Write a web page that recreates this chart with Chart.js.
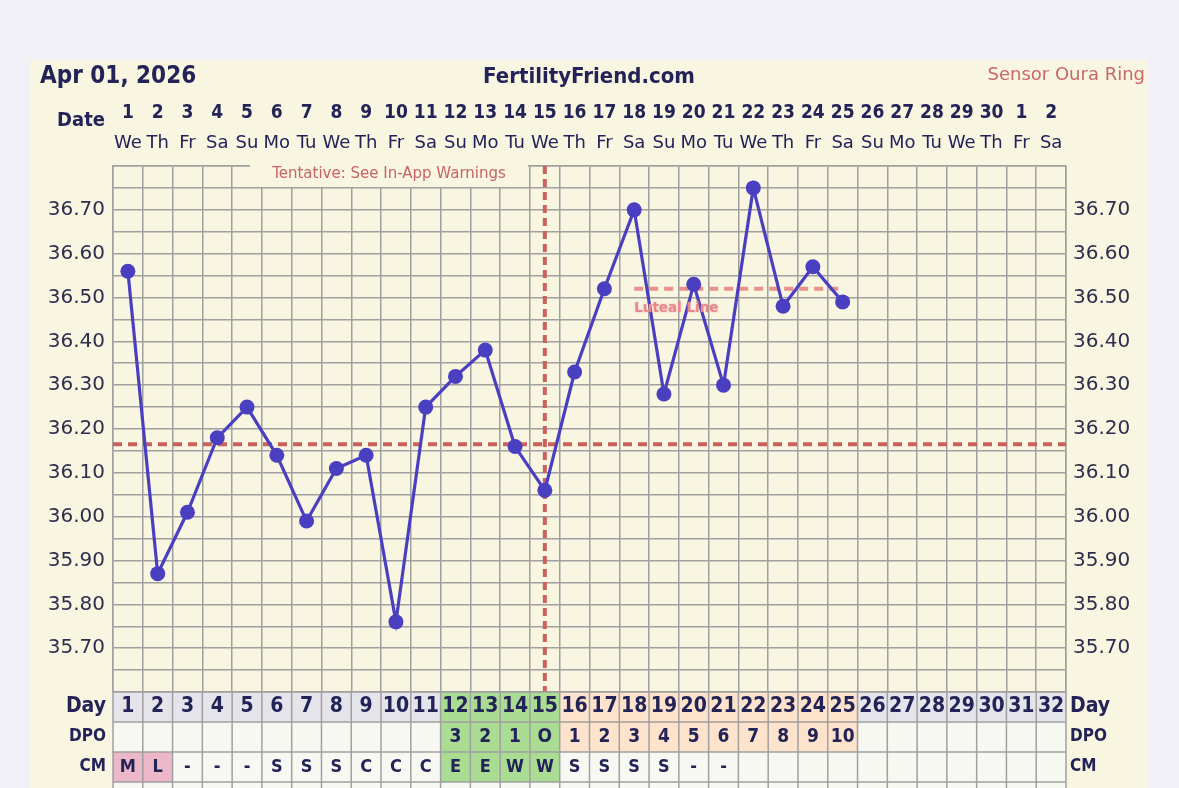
<!DOCTYPE html>
<html><head><meta charset="utf-8">
<script src="https://cdn.jsdelivr.net/npm/chart.js@4.4.1/dist/chart.umd.min.js"></script>
<style>
html,body{margin:0;padding:0;background:#f1f0f7;}
canvas{display:block;}
</style></head><body>
<canvas id="c" width="1179" height="788"></canvas>
<script>
// ---- data ----
const cycleDays = ['1','2','3','4','5','6','7','8','9','10','11','12','13','14','15','16','17','18','19','20','21','22','23','24','25','26','27','28','29','30','31','32'];
const dateNumbers = ['1','2','3','4','5','6','7','8','9','10','11','12','13','14','15','16','17','18','19','20','21','22','23','24','25','26','27','28','29','30','1','2'];
const weekdays = ['We','Th','Fr','Sa','Su','Mo','Tu','We','Th','Fr','Sa','Su','Mo','Tu','We','Th','Fr','Sa','Su','Mo','Tu','We','Th','Fr','Sa','Su','Mo','Tu','We','Th','Fr','Sa'];
const temperatures = [36.56,35.87,36.01,36.18,36.25,36.14,35.99,36.11,36.14,35.76,36.25,36.32,36.38,36.16,36.06,36.33,36.52,36.70,36.28,36.53,36.30,36.75,36.48,36.57,36.49];
const lutealLine = [null,null,null,null,null,null,null,null,null,null,null,null,null,null,null,null,null,36.52,36.52,36.52,36.52,36.52,36.52,36.52,36.52];
const coverline = 36.165;
const ovulationDay = 15;
const yTickLabels = ['35.70','35.80','35.90','36.00','36.10','36.20','36.30','36.40','36.50','36.60','36.70'];
const dpoLabels = ['','','','','','','','','','','','3','2','1','O','1','2','3','4','5','6','7','8','9','10','','','','','','',''];
const cmLabels = ['M','L','-','-','-','S','S','S','C','C','C','E','E','W','W','S','S','S','S','-','-','','','','','','','','','','',''];
const phases = ['pre','pre','pre','pre','pre','pre','pre','pre','pre','pre','pre','fert','fert','fert','fert','post','post','post','post','post','post','post','post','post','post','none','none','none','none','none','none','none'];
const cmMenses = ['M','L'];

const NAVY = '#232358';
const GRID = '#a0a0a0';
const CREAM = '#f8f5e1';

const ffPlugin = {
  id: 'ff',
  beforeDraw(chart) {
    const c = chart.ctx;
    c.save();
    c.fillStyle = '#f1f0f7'; c.fillRect(0, 0, chart.width, chart.height);
    c.fillStyle = CREAM; c.fillRect(30, 60, 1118, 740);
    c.restore();
  },
  beforeDatasetsDraw(chart) {
    const { ctx, chartArea: a, scales: { x, y } } = chart;
    ctx.save();
    // tentative label box
    ctx.fillStyle = CREAM;
    ctx.fillRect(250, a.top - 4, 278, 25);
    ctx.fillStyle = '#c86464';
    ctx.font = '15px "DejaVu Sans"';
    ctx.textAlign = 'center'; ctx.textBaseline = 'middle';
    ctx.fillText('Tentative: See In-App Warnings', 389, a.top + 8);
    // coverline
    ctx.strokeStyle = '#c9625c'; ctx.lineWidth = 4; ctx.setLineDash([9, 6]);
    const yy = y.getPixelForValue(coverline);
    ctx.beginPath(); ctx.moveTo(a.left, yy); ctx.lineTo(a.right, yy); ctx.stroke();
    // ovulation line
    const xx = x.getPixelForValue(ovulationDay - 1);
    ctx.setLineDash([8, 5]);
    ctx.beginPath(); ctx.moveTo(xx, a.top); ctx.lineTo(xx, a.bottom); ctx.stroke();
    ctx.restore();
  },
  afterDatasetsDraw(chart) {
    const { ctx, scales: { x, y } } = chart;
    ctx.save();
    ctx.font = 'bold 13.5px "DejaVu Sans"';
    ctx.fillStyle = '#e8888a';
    ctx.shadowColor = 'rgba(232,136,138,0.6)'; ctx.shadowBlur = 2;
    ctx.textAlign = 'left'; ctx.textBaseline = 'middle';
    ctx.fillText('Luteal Line', x.getPixelForValue(17), y.getPixelForValue(36.52) + 20);
    ctx.restore();
  },
  afterDraw(chart) {
    const { ctx, chartArea: a, scales: { x } } = chart;
    ctx.save();
    // header
    ctx.fillStyle = NAVY; ctx.textBaseline = 'middle';
    ctx.font = 'bold 24px "DejaVu Sans Condensed"'; ctx.textAlign = 'left';
    ctx.fillText('Apr 01, 2026', 40, 77);
    ctx.font = 'bold 22px "DejaVu Sans Condensed"'; ctx.textAlign = 'center';
    ctx.fillText('FertilityFriend.com', 589, 77);
    ctx.font = '18px "DejaVu Sans"'; ctx.textAlign = 'right'; ctx.fillStyle = '#c86868';
    ctx.fillText('Sensor Oura Ring', 1145, 75);
    ctx.fillStyle = NAVY; ctx.font = 'bold 20px "DejaVu Sans Condensed"';
    ctx.fillText('Date', 105, 121);

    // table
    const colW = (a.right - a.left) / cycleDays.length;
    const rowTop = [a.bottom, a.bottom + 30, a.bottom + 60, a.bottom + 90];
    const rowH = 30;
    const dayBg = { pre: '#e4e4ea', fert: '#aadc94', post: '#fde3cb', none: '#e4e4ea' };
    const lowBg = { pre: '#f8f8f3', fert: '#aadc94', post: '#fde3cb', none: '#f8f8f3' };
    for (let i = 0; i < cycleDays.length; i++) {
      const cx = x.getPixelForValue(i);
      const l = cx - colW / 2;
      const ph = phases[i];
      ctx.fillStyle = dayBg[ph]; ctx.fillRect(l, rowTop[0], colW, rowH);
      ctx.fillStyle = lowBg[ph]; ctx.fillRect(l, rowTop[1], colW, rowH);
      let cmBg = ph === 'fert' ? '#aadc94' : '#f8f8f3';
      if (cmMenses.includes(cmLabels[i])) cmBg = '#ebb7c9';
      ctx.fillStyle = cmBg; ctx.fillRect(l, rowTop[2], colW, rowH);
      ctx.fillStyle = '#f8f8f3'; ctx.fillRect(l, rowTop[3], colW, rowH);
    }
    ctx.strokeStyle = GRID; ctx.lineWidth = 1.5;
    ctx.beginPath();
    for (let i = 0; i <= cycleDays.length; i++) {
      const xx = a.left + i * colW;
      ctx.moveTo(xx, rowTop[0]); ctx.lineTo(xx, rowTop[3] + rowH);
    }
    for (let r = 0; r < 4; r++) {
      ctx.moveTo(a.left, rowTop[r]); ctx.lineTo(a.right, rowTop[r]);
    }
    ctx.stroke();
    ctx.fillStyle = NAVY; ctx.textAlign = 'center'; ctx.textBaseline = 'middle';
    for (let i = 0; i < cycleDays.length; i++) {
      const cx = x.getPixelForValue(i);
      ctx.font = 'bold 21px "DejaVu Sans Condensed"';
      ctx.fillText(cycleDays[i], cx, rowTop[0] + 15);
      ctx.font = 'bold 19px "DejaVu Sans Condensed"';
      ctx.fillText(dpoLabels[i], cx, rowTop[1] + 15);
      ctx.font = 'bold 18px "DejaVu Sans Condensed"';
      ctx.fillText(cmLabels[i], cx, rowTop[2] + 15);
    }
    const rowNames = ['Day', 'DPO', 'CM'];
    const rowFonts = ['bold 21px "DejaVu Sans Condensed"', 'bold 17px "DejaVu Sans Condensed"', 'bold 17px "DejaVu Sans Condensed"'];
    for (let r = 0; r < 3; r++) {
      ctx.font = rowFonts[r];
      ctx.textAlign = 'right'; ctx.fillText(rowNames[r], a.left - 7, rowTop[r] + 15);
      ctx.textAlign = 'left'; ctx.fillText(rowNames[r], a.right + 4, rowTop[r] + 15);
    }
    ctx.restore();
  }
};

const yTickCallback = (v) => {
  const s = (Math.round(v * 100) / 100).toFixed(2);
  return yTickLabels.includes(s) ? s : '';
};

new Chart(document.getElementById('c'), {
  type: 'line',
  data: {
    labels: cycleDays,
    datasets: [
      {
        data: temperatures,
        borderColor: '#4b3fc1', backgroundColor: '#4b3fc1',
        borderWidth: 3.2, pointRadius: 7.5, pointBorderWidth: 0, tension: 0,
        xAxisID: 'x', yAxisID: 'y'
      },
      {
        data: lutealLine,
        borderColor: '#e8908a', borderWidth: 4, borderDash: [9, 6],
        pointRadius: 0, spanGaps: false, tension: 0,
        xAxisID: 'x', yAxisID: 'y'
      }
    ]
  },
  options: {
    responsive: false, animation: false, devicePixelRatio: 1,
    layout: { padding: { top: 90, left: 30, right: 31, bottom: 96 } },
    plugins: { legend: { display: false }, tooltip: { enabled: false }, title: { display: false } },
    scales: {
      x: {
        type: 'category', position: 'top', offset: true,
        grid: { offset: true, color: GRID, lineWidth: 1.5, drawTicks: false },
        border: { display: true, color: GRID, width: 1.5 },
        ticks: { autoSkip: false, maxRotation: 0, padding: 12, color: NAVY,
          font: { family: 'DejaVu Sans', size: 18 },
          callback: (v, i) => weekdays[i] },
        afterFit(s) { s.height = 36; }
      },
      xDate: {
        type: 'category', position: 'top', offset: true, labels: dateNumbers,
        grid: { display: false, drawTicks: false },
        border: { display: false },
        ticks: { autoSkip: false, maxRotation: 0, padding: 6, color: NAVY,
          font: { family: 'DejaVu Sans Condensed', size: 19, weight: 'bold' } },
        afterFit(s) { s.height = 40; }
      },
      y: {
        position: 'left', min: 35.6, max: 36.8,
        grid: { color: GRID, lineWidth: 1.5, drawTicks: false },
        border: { display: true, color: GRID, width: 1.5 },
        ticks: { stepSize: 0.05, autoSkip: false, padding: 8, color: '#2e2e4e',
          font: { family: 'DejaVu Sans', size: 20 }, callback: yTickCallback },
        afterFit(s) { s.width = 83; }
      },
      y2: {
        position: 'right', min: 35.6, max: 36.8,
        grid: { display: false, drawTicks: false },
        border: { display: true, color: GRID, width: 1.5 },
        ticks: { stepSize: 0.05, autoSkip: false, padding: 7, color: '#2e2e4e',
          font: { family: 'DejaVu Sans', size: 20 }, callback: yTickCallback },
        afterFit(s) { s.width = 82; }
      }
    }
  },
  plugins: [ffPlugin]
});
</script>
</body></html>
